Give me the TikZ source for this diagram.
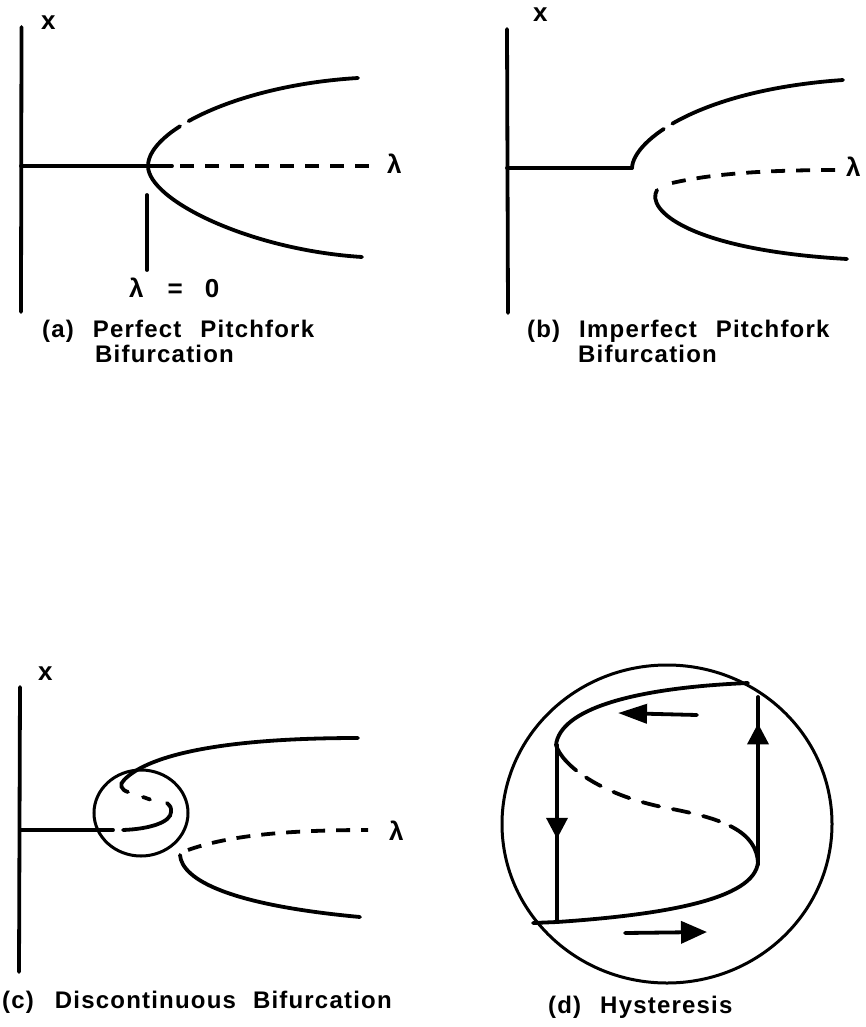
\documentclass[tikz,border=0pt]{standalone}
\usepackage{fontspec}
\setmainfont{Liberation Sans}
\newfontfamily\capf[LetterSpace=5]{Liberation Sans}
\usetikzlibrary{arrows.meta,decorations.markings}
\tikzset{
  ln/.style={line width=3.8pt, line cap=round},
  dsh/.style={line width=3.8pt, line cap=butt, dash pattern=on 14pt off 11pt},
  cir/.style={line width=3pt},
  lab/.style={font=\capf\bfseries\fontsize{24}{28}\selectfont, inner sep=0pt, anchor=base west},
  sym/.style={font=\capf\bfseries\fontsize{26}{28}\selectfont, inner sep=0pt, anchor=base west},
  midarrow/.style={postaction={decorate, decoration={markings, mark=at position #1 with {\arrow{Triangle[length=21pt,width=21pt]}}}}}
}
\begin{document}
\begin{tikzpicture}[x=1pt,y=-1pt]
\useasboundingbox (0,0) rectangle (865,1027);
\clip (0,0) rectangle (865,1027);
\fill[white] (0,0) rectangle (865,1027);

% ---------- (a) ----------
\draw[ln] (21.5,27) -- (21,312);
\draw[ln] (21,166) -- (172,166);
\draw[dsh] (180,166) -- (375,166);
\draw[ln, dash pattern=on 53pt off 10pt on 600pt] (148,166) .. controls (148,130) and (240,85) .. (358,78);
\draw[ln] (148,166) .. controls (148,200) and (250,250) .. (362,257);
\draw[ln] (147,195) -- (147,270);
\node[sym] (xa) at (41,30) {x};
\node[sym] (la) at (387,174) {λ};
\node[sym] (lz) at (129,297) {λ\hspace{24pt}=\hspace{22pt}0};
\node[lab] (ca1) at (42,337) {(a)\hspace{19pt}Perfect\hspace{19pt}Pitchfork};
\node[lab] (ca2) at (95,362) {Bifurcation};

% ---------- (b) ----------
\draw[ln] (507,29) -- (508,313);
\draw[ln] (507,168) -- (632,168);
\draw[ln, dash pattern=on 52pt off 10pt on 600pt] (632,168) .. controls (633,140) and (700,90) .. (843,80);
\draw[dsh] (672,183) .. controls (720,172) and (780,170) .. (843,170);
\draw[ln] (657,190) .. controls (645,210) and (690,250) .. (847,259);
\node[sym] (xb) at (533,22) {x};
\node[sym] (lb) at (846,176) {λ};
\node[lab] (cb1) at (527,337) {(b)\hspace{19pt}Imperfect\hspace{19pt}Pitchfork};
\node[lab] (cb2) at (578,362) {Bifurcation};

% ---------- (c) ----------
\draw[ln] (20,687) -- (19,972);
\draw[ln] (20,830) -- (113,830);
\draw[ln] (123,830) .. controls (150,829) and (171,822) .. (171,812) .. controls (171,807) .. (167,803);
\draw[ln] (143,797) -- (150,799.5);
\draw[ln] (124,780) .. controls (145,758) and (210,738) .. (358,738);
\draw[ln] (124,780) .. controls (119,784) and (121,790) .. (128,792);
\draw[cir] (141,813) ellipse [x radius=47pt, y radius=43pt];
\draw[dsh] (188,850) .. controls (230,835) and (290,830) .. (368,830);
\draw[ln] (180,855) .. controls (182,880) and (230,905) .. (360,917);
\node[sym] (xc) at (38,680) {x};
\node[sym] (lc) at (389,840) {λ};
\node[lab] (cc) at (2,1008) {(c)\hspace{21pt}Discontinuous\hspace{17pt}Bifurcation};

% ---------- (d) ----------
\draw[cir] (667,824) ellipse [x radius=165pt, y radius=159pt];
\draw[ln] (748,683) .. controls (630,688) and (560,710) .. (556,745);
\draw[ln, dash pattern=on 33pt off 12pt on 17pt off 14pt on 17pt off 14pt on 17pt off 14pt on 17pt off 14pt on 17pt off 12pt on 200pt]
  (556,745) .. controls (562,765) and (600,795) .. (667,808) .. controls (720,818) and (758,830) .. (758,865);
\draw[ln, midarrow=0.53] (557,745) -- (557,922);
\draw[ln] (533,923) -- (557,922) .. controls (660,915) and (755,900) .. (758,862);
\draw[ln, midarrow=0.84] (758,862) -- (758,697);
\draw[ln, -{Triangle[length=29pt,width=19pt]}] (697,715) -- (618,713);
\draw[ln, -{Triangle[length=26pt,width=22pt]}] (625,933) -- (707,932);
\node[lab] (cd) at (548,1013) {(d)\hspace{19pt}Hysteresis};
\end{tikzpicture}
\end{document}
